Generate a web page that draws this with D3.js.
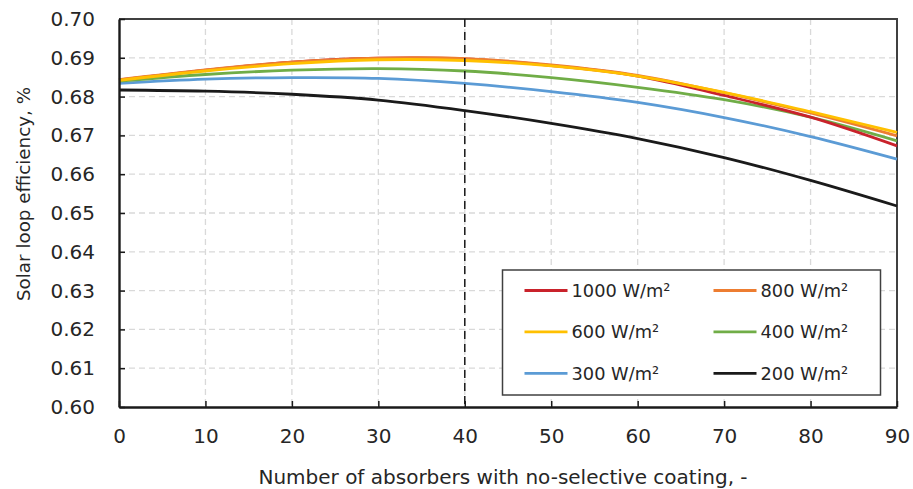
<!DOCTYPE html>
<html>
<head>
<meta charset="utf-8">
<script src="https://cdn.jsdelivr.net/npm/d3@7"></script>
<style>
  body { margin: 0; background: #fff; }
  text { font-family: "DejaVu Sans", sans-serif; fill: #262626; }
</style>
</head>
<body>
<div id="chart"></div>
<script>
const absorbers = [0, 10, 20, 30, 40, 50, 60, 70, 80, 90];
const series = [
  { name: "1000 W/m²", color: "#c9222b", values: [0.6843, 0.6868, 0.6889, 0.6899, 0.6897, 0.6880, 0.6853, 0.6803, 0.6747, 0.6673] },
  { name: "800 W/m²",  color: "#ed7d31", values: [0.6844, 0.6869, 0.6889, 0.6899, 0.6898, 0.6882, 0.6855, 0.6810, 0.6758, 0.6699] },
  { name: "600 W/m²",  color: "#ffc000", values: [0.6842, 0.6866, 0.6885, 0.6895, 0.6893, 0.6879, 0.6853, 0.6811, 0.6761, 0.6708] },
  { name: "400 W/m²",  color: "#70ad47", values: [0.6840, 0.6857, 0.6868, 0.6872, 0.6866, 0.6849, 0.6824, 0.6792, 0.6747, 0.6686] },
  { name: "300 W/m²",  color: "#5b9bd5", values: [0.6834, 0.6845, 0.6849, 0.6847, 0.6834, 0.6813, 0.6785, 0.6746, 0.6697, 0.6639] },
  { name: "200 W/m²",  color: "#1a1a1a", values: [0.6817, 0.6814, 0.6806, 0.6791, 0.6764, 0.6731, 0.6692, 0.6643, 0.6584, 0.6518] }
];
const drawOrder = [5, 4, 3, 0, 1, 2];
const xTicks = d3.range(0, 91, 10);
const yTicks = d3.range(0.60, 0.7001, 0.01);
const markerX = 40;

const width = 913, height = 489;
const margin = { top: 19, right: 16, bottom: 82, left: 119 };
const w = width - margin.left - margin.right;
const h = height - margin.top - margin.bottom;

const svg = d3.select("#chart").append("svg")
  .attr("width", width)
  .attr("height", height);

const g = svg.append("g")
  .attr("transform", `translate(${margin.left},${margin.top})`);

const x = d3.scaleLinear().domain([0, 90]).range([0, w]);
const y = d3.scaleLinear().domain([0.60, 0.70]).range([h, 0]);

// grid
g.append("g")
  .selectAll("line.gy")
  .data(yTicks.slice(1, -1))
  .join("line")
  .attr("x1", 0).attr("x2", w)
  .attr("y1", d => y(d)).attr("y2", d => y(d))
  .attr("stroke", "#d9d9d9").attr("stroke-width", 1.3)
  .attr("stroke-dasharray", "6,4");

g.append("g")
  .selectAll("line.gx")
  .data(xTicks.slice(1, -1))
  .join("line")
  .attr("y1", 0).attr("y2", h)
  .attr("x1", d => x(d)).attr("x2", d => x(d))
  .attr("stroke", "#d9d9d9").attr("stroke-width", 1.3)
  .attr("stroke-dasharray", "6,4");

// top / right border
g.append("path")
  .attr("d", `M0,0H${w}V${h}`)
  .attr("fill", "none")
  .attr("stroke", "#404040")
  .attr("stroke-width", 2);

// lines
const line = d3.line()
  .x((d, i) => x(absorbers[i]))
  .y(d => y(d))
  .curve(d3.curveCatmullRom.alpha(0.5));

g.append("g")
  .selectAll("path.series")
  .data(drawOrder.map(i => series[i]))
  .join("path")
  .attr("fill", "none")
  .attr("stroke", d => d.color)
  .attr("stroke-width", 2.8)
  .attr("d", d => line(d.values));

// vertical marker
g.append("line")
  .attr("x1", x(markerX)).attr("x2", x(markerX))
  .attr("y1", 0).attr("y2", h)
  .attr("stroke", "#1a1a1a").attr("stroke-width", 1.5)
  .attr("stroke-dasharray", "8,5");

// axes
const xAxis = g.append("g")
  .attr("transform", `translate(0,${h})`)
  .call(d3.axisBottom(x).tickValues(xTicks).tickSizeInner(-6).tickSizeOuter(0).tickPadding(22));
const yAxis = g.append("g")
  .call(d3.axisLeft(y).tickValues(yTicks).tickFormat(d3.format(".2f")).tickSizeInner(-6).tickSizeOuter(0).tickPadding(24));

[xAxis, yAxis].forEach(a => {
  a.select(".domain").attr("stroke", "#1a1a1a").attr("stroke-width", 2.4);
  a.selectAll(".tick line").attr("stroke", "#1a1a1a").attr("stroke-width", 1.5);
  a.selectAll(".tick text").attr("font-size", 20).attr("fill", "#262626")
    .style("font-family", "DejaVu Sans, sans-serif");
});

// legend
const legend = g.append("g").attr("transform", `translate(${502.5 - margin.left},${270 - margin.top})`);
legend.append("rect")
  .attr("width", 378).attr("height", 125)
  .attr("fill", "#fff")
  .attr("stroke", "#404040").attr("stroke-width", 1.5);

const item = legend.selectAll("g.item")
  .data(series)
  .join("g")
  .attr("transform", (d, i) => `translate(${i % 2 === 0 ? 22 : 211},${20.5 + Math.floor(i / 2) * 41.4})`);
item.append("line")
  .attr("x1", 0).attr("x2", 43)
  .attr("stroke", d => d.color).attr("stroke-width", 2.8);
item.append("text")
  .attr("x", 47).attr("dy", "0.36em")
  .attr("font-size", 17.8)
  .text(d => d.name);

// titles
svg.append("text")
  .attr("x", margin.left + w / 2 - 5).attr("y", 484)
  .attr("text-anchor", "middle")
  .attr("font-size", 20)
  .text("Number of absorbers with no-selective coating, -");

svg.append("text")
  .attr("transform", `translate(30,194) rotate(-90)`)
  .attr("text-anchor", "middle")
  .attr("font-size", 18.3)
  .text("Solar loop efficiency, %");
</script>
</body>
</html>
